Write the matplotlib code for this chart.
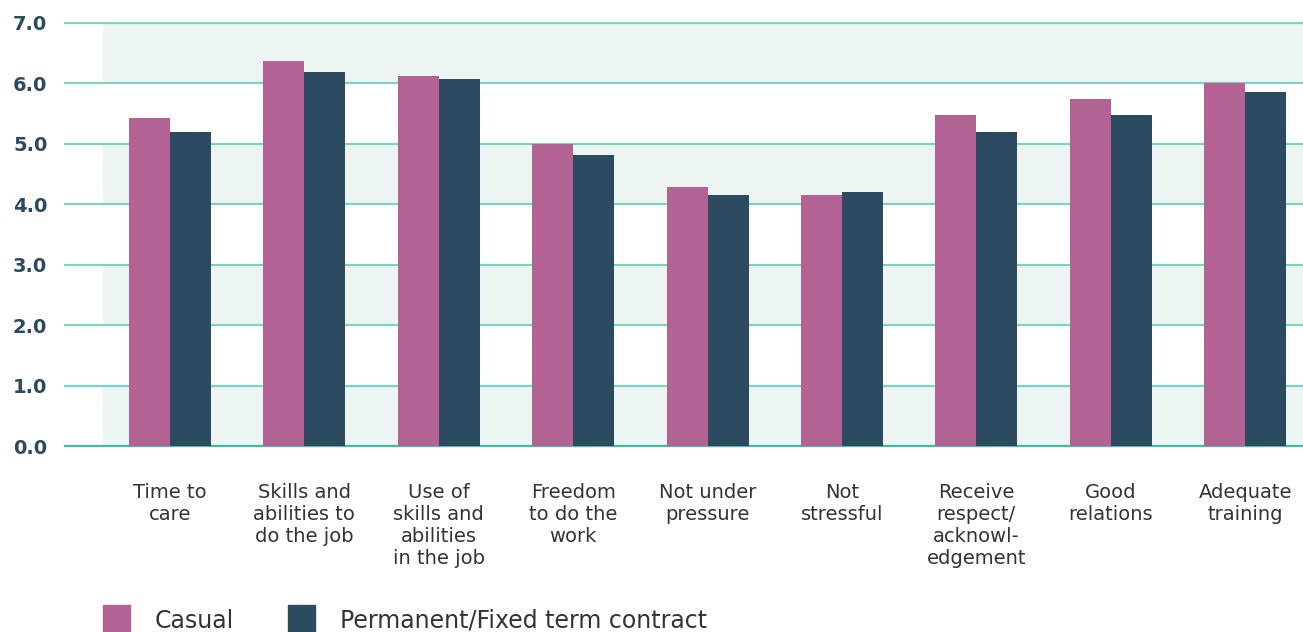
import numpy as np
import matplotlib
matplotlib.use('Agg')
from matplotlib import pyplot as plt
from matplotlib import transforms

categories = ['Time to\ncare', 'Skills and\nabilities to\ndo the job', 'Use of\nskills and\nabilities\nin the job',
              'Freedom\nto do the\nwork', 'Not under\npressure', 'Not\nstressful', 'Receive\nrespect/\nacknowl-\nedgement',
              'Good\nrelations', 'Adequate\ntraining']
casual = [5.43, 6.37, 6.12, 5.00, 4.29, 4.15, 5.48, 5.74, 6.00]
permanent = [5.20, 6.19, 6.07, 4.82, 4.15, 4.20, 5.20, 5.48, 5.86]
series_labels = ['Casual', 'Permanent/Fixed term contract']
yticks = [0, 1, 2, 3, 4, 5, 6, 7]

colors = ['#b26393', '#2d4b60']
grid_color = '#7dd3c0'
band_color = '#ecf5f2'
text_color = '#2d4a5e'

plt.rcParams['font.family'] = ['DejaVu Sans']

fig = plt.figure(figsize=(13.03, 6.32), dpi=100)
ax = fig.add_axes([65 / 1303, 186 / 632, 1 - 65 / 1303, 423 / 632])

N = len(categories)
ind = np.arange(N)
width = 0.305

# shaded bands every other unit, starting at the top
for lo in range(0, 7, 2):
    ax.fill_between([-0.5, N + 1], lo, lo + 1, color=band_color, lw=0, zorder=0)

for y in yticks:
    ax.axhline(y, color='#3dbfa5' if y == 0 else grid_color, lw=1.6, zorder=1, clip_on=False)

ax.bar(ind - width / 2, casual, width, color=colors[0], zorder=2)
ax.bar(ind + width / 2, permanent, width, color=colors[1], zorder=2)

ax.set_xlim(-0.78, 8.43)
ax.set_ylim(0, 7)
for s in ax.spines.values():
    s.set_visible(False)
ax.set_xticks([])
ax.set_yticks([])

trans = transforms.blended_transform_factory(fig.transFigure, ax.transData)
for y in yticks:
    ax.text(13 / 1303, y, '%.1f' % y, transform=trans, ha='left', va='center_baseline',
            fontsize=14, fontweight='bold', color=text_color)

for i, lab in enumerate(categories):
    ax.text(i, -0.62, lab, ha='center', va='top', fontsize=14, color='#333333',
            linespacing=1.18, clip_on=False)

# legend drawn by hand at the bottom
for x0, lab, c in [(103, series_labels[0], colors[0]), (288, series_labels[1], colors[1])]:
    fig.patches.append(plt.Rectangle((x0 / 1303, 0), 27 / 1303, 27 / 632, color=c,
                                     transform=fig.transFigure))
    fig.text((x0 + 52) / 1303, 11 / 632, lab, ha='left', va='center', fontsize=17, color='#333333')

fig.savefig('out.png', dpi=100)
